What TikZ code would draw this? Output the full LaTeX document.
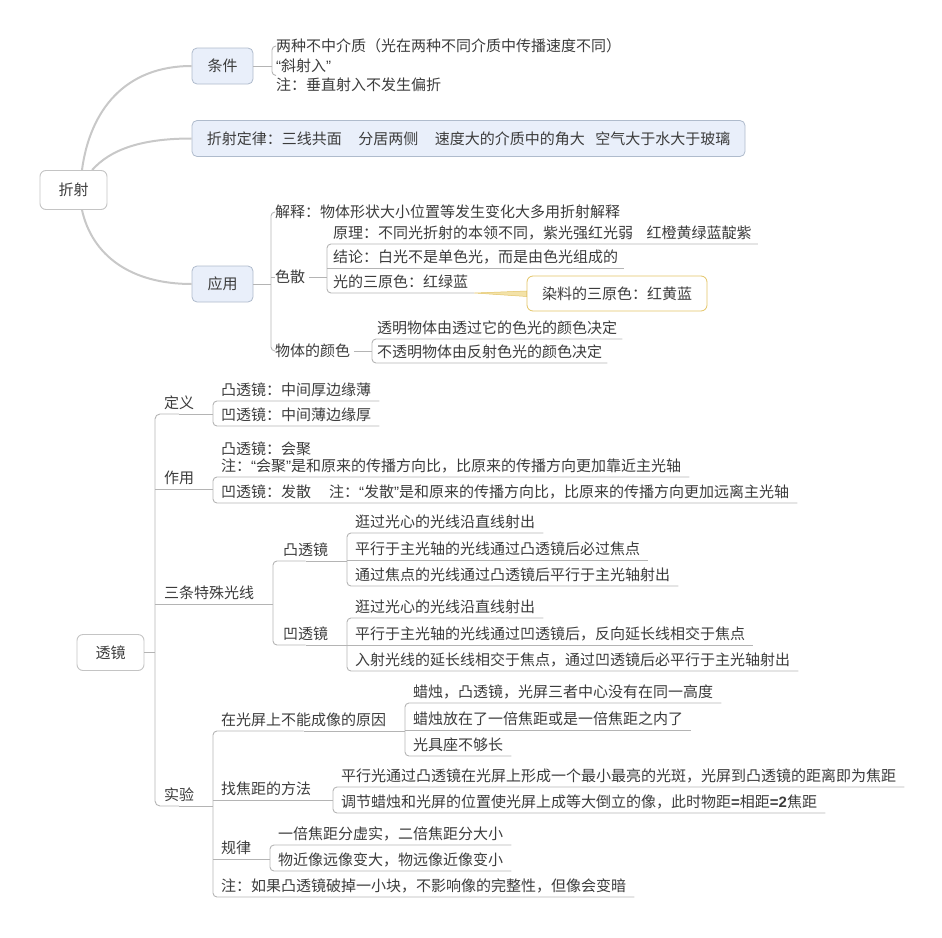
\documentclass[tikz,border=0pt]{standalone}
\usepackage{fontspec}
\setmainfont{Noto Sans CJK SC}
\newfontfamily\latinfont{Liberation Sans}
\newcommand{\quoteL}{{\latinfont “}}
\newcommand{\quoteR}{{\latinfont ”}}
\definecolor{txtgray}{HTML}{3C3C3C}
\definecolor{linegray}{HTML}{B4B4B4}
\definecolor{curvegray}{HTML}{C8C8C8}
\definecolor{boxblue}{HTML}{E9EFFA}
\definecolor{boxedge}{HTML}{AFBBCC}
\definecolor{rootedge}{HTML}{C4C4C4}
\definecolor{gold}{HTML}{E3C466}
\definecolor{goldfill}{HTML}{F3E2A8}
\begin{document}
\begin{tikzpicture}[x=1pt,y=-1pt,
        font=\fontsize{15}{17.5}\selectfont, text=txtgray,
        ln/.style = {linegray,line width=0.9pt},
        curve/.style = {curvegray,line width=2pt},
        root/.style = {draw=rootedge,fill=white,rounded corners=6pt,line width=0.9pt,
            minimum width=67pt,minimum height=39pt},
        sub/.style = {draw=boxedge,fill=boxblue,rounded corners=5pt,line width=0.8pt,
            minimum width=61pt,minimum height=36pt},
        callout/.style = {draw=gold,fill=white,rounded corners=6pt,line width=0.8pt,
            minimum width=180pt,minimum height=35pt},
        lbl/.style = {anchor=west,inner xsep=4pt,inner ysep=2pt,
            text height=11.5pt,text depth=1.5pt},
        leaf/.style = {anchor=south west,inner xsep=8pt,inner ysep=3.5pt,
            text height=11.5pt,text depth=1.5pt},
        twoline/.style = {align=left,text height=,text depth=}]
    \useasboundingbox (0,0) rectangle (942,937);

    % 折射
    \node[root] (refr) at (73.5,190) {折射};
    \node[sub] (cond) at (222.5,66) {条件};
    \node[sub,minimum width=553pt] (law) at (468.5,138.5)
        {折射定律：三线共面\hspace{1.1em}分居两侧\hspace{1.1em}速度大的介质中的角大\hspace{0.7em}空气大于水大于玻璃};
    \node[sub] (appl) at (222.5,284) {应用};

    \draw[curve] (refr.67) .. controls (90,110) and (125,66) .. (cond.west);
    \draw[curve] (refr.47) .. controls (110,150) and (140,138.5) .. (law.west);
    \draw[curve] (refr.-67) .. controls (92,255) and (130,284) .. (appl.west);

    \node[lbl] (cond1) at (272,46) {两种不中介质（光在两种不同介质中传播速度不同）};
    \node[lbl,twoline,font=\fontsize{15}{19.5}\selectfont] (cond2) at (272,75.5)
        {\quoteL 斜射入\quoteR\\注：垂直射入不发生偏折};
    \draw[ln] (cond.east) -- (cond.east -| cond1.west);
    \draw[ln,rounded corners=4pt] ([xshift=4pt]cond1.west) -- (cond1.west)
        -- (cond2.west) -- ([xshift=4pt]cond2.west);

    \node[lbl] (expl) at (271,212) {解释：物体形状大小位置等发生变化大多用折射解释};
    \node[lbl] (disp) at (271,277) {色散};
    \node[lbl] (objc) at (271,351) {物体的颜色};
    \draw[ln] (appl.east) -- (appl.east -| expl.west);
    \draw[ln,rounded corners=4pt] ([xshift=4pt]expl.west) -- (expl.west)
        -- (objc.west) -- ([xshift=4pt]objc.west);
    \draw[ln] (disp.west) -- ([xshift=4pt]disp.west);

    \node[leaf,inner xsep=6pt] (disp1) at (327,244) {原理：不同光折射的本领不同，紫光强红光弱\hspace{0.9em}红橙黄绿蓝靛紫};
    \node[leaf,inner xsep=6pt] (disp2) at (327,268) {结论：白光不是单色光，而是由色光组成的};
    \node[leaf,inner xsep=6pt] (disp3) at (327,293) {光的三原色：红绿蓝};
    \draw[ln] (disp.east) -- (disp.east -| disp1.south west);
    \draw[ln,rounded corners=4pt] (disp1.south east) -- (disp1.south west)
        -- (disp3.south west) -- (disp3.south east);
    \draw[ln] (disp2.south west) -- (disp2.south east);

    \node[callout] (dye) at (617,293.5) {染料的三原色：红黄蓝};
    \filldraw[fill=goldfill,draw=gold,line width=0.5pt] (disp3.south east)
        -- ([yshift=2.5pt]dye.west) -- ([yshift=-3pt]dye.west) -- cycle;

    \node[leaf,inner xsep=5pt] (objc1) at (372,339) {透明物体由透过它的色光的颜色决定};
    \node[leaf,inner xsep=5pt] (objc2) at (372,363) {不透明物体由反射色光的颜色决定};
    \draw[ln] (objc.east) -- (objc.east -| objc1.south west);
    \draw[ln,rounded corners=4pt] (objc1.south east) -- (objc1.south west)
        -- (objc2.south west) -- (objc2.south east);

    % 透镜
    \node[root,minimum height=36pt] (lens) at (110.5,652.5) {透镜};
    \node[leaf,inner xsep=9pt] (defn) at (155,414) {定义};
    \node[leaf,inner xsep=9pt] (func) at (155,489) {作用};
    \node[leaf,inner xsep=9pt] (rays) at (155,604) {三条特殊光线};
    \node[leaf,inner xsep=9pt] (expt) at (155,806) {实验};
    \draw[ln] (lens.east) -- (lens.east -| defn.south west);
    \draw[ln,rounded corners=5pt] (defn.south) -- (defn.south west)
        -- (expt.south west) -- (expt.south);

    \node[leaf] (defn1) at (213,401) {凸透镜：中间厚边缘薄};
    \node[leaf] (defn2) at (213,426) {凹透镜：中间薄边缘厚};
    \draw[ln] (defn.south) -- (defn.south -| defn1.south west);
    \draw[ln,rounded corners=4pt] (defn1.south east) -- (defn1.south west)
        -- (defn2.south west) -- (defn2.south east);

    \node[leaf,twoline] (func1) at (213,477)
        {凸透镜：会聚\\注：\quoteL 会聚\quoteR 是和原来的传播方向比，比原来的传播方向更加靠近主光轴};
    \node[leaf] (func2) at (213,503)
        {凹透镜：发散\hspace{1.2em}注：\quoteL 发散\quoteR 是和原来的传播方向比，比原来的传播方向更加远离主光轴};
    \draw[ln] (func.south west) -- (func.south west -| func1.south west);
    \draw[ln,rounded corners=4pt] (func1.south east) -- (func1.south west)
        -- (func2.south west) -- (func2.south east);

    \node[leaf,inner xsep=10pt] (ray1) at (273,561) {凸透镜};
    \node[leaf,inner xsep=10pt] (ray2) at (273,645) {凹透镜};
    \draw[ln] (rays.south west) -- (rays.south west -| ray1.south west);
    \draw[ln,rounded corners=4pt] (ray1.south) -- (ray1.south west)
        -- (ray2.south west) -- (ray2.south);

    \node[leaf] (ray11) at (347,533) {逛过光心的光线沿直线射出};
    \node[leaf] (ray12) at (347,560) {平行于主光轴的光线通过凸透镜后必过焦点};
    \node[leaf] (ray13) at (347,586) {通过焦点的光线通过凸透镜后平行于主光轴射出};
    \draw[ln] (ray1.south) -- (ray1.south -| ray11.south west);
    \draw[ln,rounded corners=4pt] (ray11.south east) -- (ray11.south west)
        -- (ray13.south west) -- (ray13.south east);
    \draw[ln] (ray12.south west) -- (ray12.south east);

    \node[leaf] (ray21) at (347,618) {逛过光心的光线沿直线射出};
    \node[leaf] (ray22) at (347,645) {平行于主光轴的光线通过凹透镜后，反向延长线相交于焦点};
    \node[leaf] (ray23) at (347,671) {入射光线的延长线相交于焦点，通过凹透镜后必平行于主光轴射出};
    \draw[ln] (ray2.south) -- (ray2.south -| ray21.south west);
    \draw[ln,rounded corners=4pt] (ray21.south east) -- (ray21.south west)
        -- (ray23.south west) -- (ray23.south east);
    \draw[ln] (ray22.south west) -- (ray22.south east);

    \node[leaf] (exp1) at (213,731) {在光屏上不能成像的原因};
    \node[leaf] (exp2) at (213,800) {找焦距的方法};
    \node[leaf] (exp3) at (213,859) {规律};
    \node[leaf] (exp4) at (213,897) {注：如果凸透镜破掉一小块，不影响像的完整性，但像会变暗};
    \draw[ln] (expt.south) -- (expt.south -| exp1.south west);
    \draw[ln,rounded corners=4pt] (exp1.south) -- (exp1.south west)
        -- (exp4.south west) -- (exp4.south east);

    \node[leaf] (exp11) at (405,703) {蜡烛，凸透镜，光屏三者中心没有在同一高度};
    \node[leaf] (exp12) at (405,730) {蜡烛放在了一倍焦距或是一倍焦距之内了};
    \node[leaf] (exp13) at (405,756) {光具座不够长};
    \draw[ln] (exp1.south) -- (exp1.south -| exp11.south west);
    \draw[ln,rounded corners=4pt] (exp11.south east) -- (exp11.south west)
        -- (exp13.south west) -- (exp13.south east);
    \draw[ln] (exp12.south west) -- (exp12.south east);

    \node[leaf] (exp21) at (333,787) {平行光通过凸透镜在光屏上形成一个最小最亮的光斑，光屏到凸透镜的距离即为焦距};
    \node[leaf] (exp22) at (333,813) {调节蜡烛和光屏的位置使光屏上成等大倒立的像，此时物距{\latinfont\bfseries =}相距{\latinfont\bfseries =2}焦距};
    \draw[ln] (exp2.south west) -- (exp2.south west -| exp21.south west);
    \draw[ln,rounded corners=4pt] (exp21.south east) -- (exp21.south west)
        -- (exp22.south west) -- (exp22.south east);

    \node[leaf] (exp31) at (270,845) {一倍焦距分虚实，二倍焦距分大小};
    \node[leaf] (exp32) at (270,871) {物近像远像变大，物远像近像变小};
    \draw[ln] (exp3.south west) -- (exp3.south west -| exp31.south west);
    \draw[ln,rounded corners=4pt] (exp31.south east) -- (exp31.south west)
        -- (exp32.south west) -- (exp32.south east);
\end{tikzpicture}
\end{document}
